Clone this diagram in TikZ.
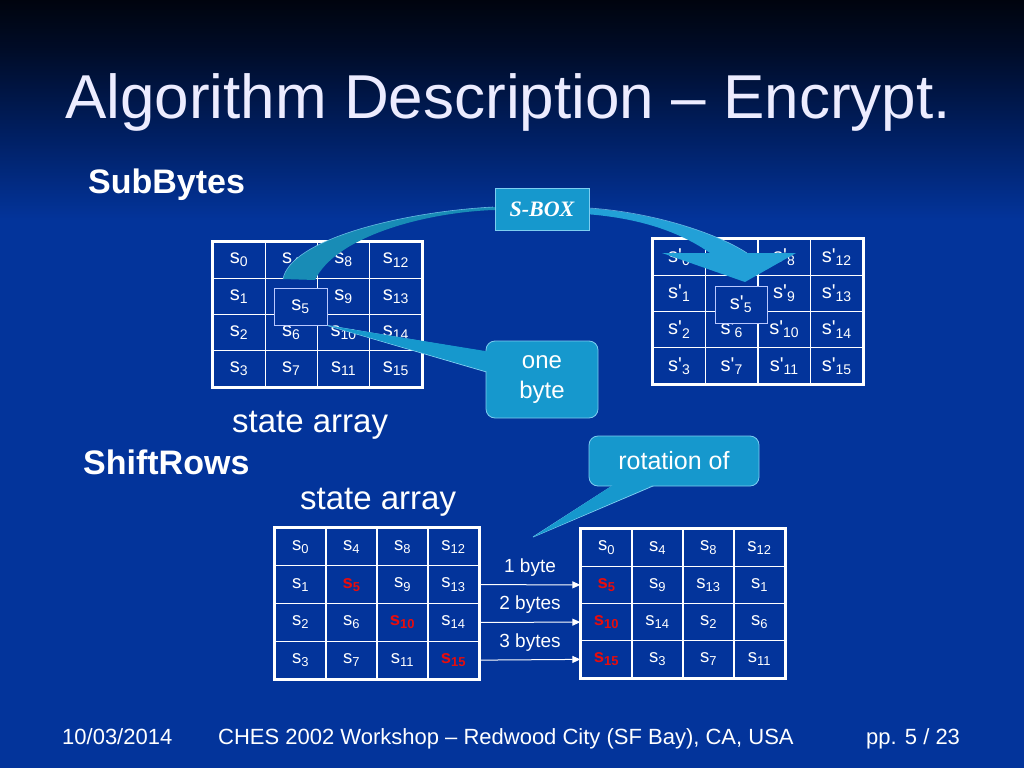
\documentclass[tikz,border=0pt]{standalone}
\usepackage{fontspec}
\setmainfont{Liberation Sans}
\newfontfamily\serifbi{Liberation Serif}
\usetikzlibrary{arrows.meta}
\definecolor{bgblue}{RGB}{3,52,155}
\definecolor{bgtop}{RGB}{0,4,14}
\definecolor{bgtwo}{RGB}{0,12,40}
\definecolor{bgthree}{RGB}{0,30,95}
\definecolor{callfill}{RGB}{22,152,205}
\definecolor{callline}{RGB}{125,205,240}
\definecolor{ribbonL}{RGB}{24,140,182}
\definecolor{ribbonR}{RGB}{34,160,215}
\definecolor{titlecol}{RGB}{236,236,255}
\definecolor{redtxt}{RGB}{232,12,12}
\definecolor{boxline}{RGB}{185,200,255}
\newcommand\sbx[1]{s\textsubscript{#1}}
\newcommand\spr[1]{s\textquotesingle\textsubscript{#1}}
\newcommand\srd[1]{\textcolor{redtxt}{\bfseries s\textsubscript{#1}}}
\tikzset{
  gridcell/.style={draw=white, line width=1.3pt, fill=bgblue, text=white, inner sep=0pt},
  fivebox/.style={draw=boxline, line width=1pt, fill=bgblue, text=white, inner sep=0pt},
  callout/.style={draw=callline, line width=0.8pt, fill=callfill, text=white, rounded corners=9pt, inner sep=0pt},
  wedge/.style={fill=callfill, draw=callline, line width=0.8pt},
  plain/.style={text=white, inner sep=0pt},
  shiftarrow/.style={draw=white, line width=1pt, -{Triangle[width=7pt,length=8pt]}},
  lbl/.style={text=white, inner sep=0pt, font=\fontsize{19}{22}\selectfont}
}
% name, x0, y0, cell width, cell height, font size, entries (column-major)
\newcommand\stategrid[7]{%
  \foreach \ent [count=\i from 0] in {#7} {
    \pgfmathtruncatemacro\cc{\i/4}
    \pgfmathtruncatemacro\rr{\i-4*\cc}
    \node[gridcell, minimum width=#4pt, minimum height=#5pt, font=\fontsize{#6}{#6}\selectfont]
      (#1-\i) at ({#2+(\cc+0.5)*#4},{#3+(\rr+0.5)*#5}) {\ent};
  }
  \draw[white, line width=3pt] (#1-0.north west) rectangle (#1-15.south east);
}
\begin{document}
\begin{tikzpicture}[x=1pt,y=-1pt]
\useasboundingbox (0,0) rectangle (1024,768);
% background
\fill[bgblue] (0,0) rectangle (1024,768);
\shade[top color=bgtop, bottom color=bgtwo] (0,0) rectangle (1024,50.5);
\shade[top color=bgtwo, bottom color=bgthree] (0,50) rectangle (1024,130.5);
\shade[top color=bgthree, bottom color=bgblue] (0,130) rectangle (1024,220);

% title and headings
\node[anchor=base west, text=titlecol, inner sep=0pt, font=\fontsize{62}{70}\selectfont] (title) at (65,118) {Algorithm Description -- Encrypt.};
\node[plain, anchor=base west, font=\fontsize{34}{40}\selectfont\bfseries] (subbytes) at (88,193) {SubBytes};
\node[plain, anchor=base west, font=\fontsize{34}{40}\selectfont\bfseries] (shiftrows) at (83,474) {ShiftRows};
\node[plain, anchor=base west, font=\fontsize{33}{40}\selectfont] (state1) at (232,432) {state array};
\node[plain, anchor=base west, font=\fontsize{33}{40}\selectfont] (state2) at (300,509) {state array};

% grids
\stategrid{tl}{213}{242}{52.25}{36.25}{20}{{\sbx{0}},{\sbx{1}},{\sbx{2}},{\sbx{3}},{\sbx{4}},{},{\sbx{6}},{\sbx{7}},{\sbx{8}},{\sbx{9}},{\sbx{10}},{\sbx{11}},{\sbx{12}},{\sbx{13}},{\sbx{14}},{\sbx{15}}}
\stategrid{tr}{653}{239}{52.5}{36.25}{20}{{\spr{0}},{\spr{1}},{\spr{2}},{\spr{3}},{\spr{4}},{},{\spr{6}},{\spr{7}},{\spr{8}},{\spr{9}},{\spr{10}},{\spr{11}},{\spr{12}},{\spr{13}},{\spr{14}},{\spr{15}}}
\stategrid{bl}{275}{528}{51}{37.75}{18.5}{{\sbx{0}},{\sbx{1}},{\sbx{2}},{\sbx{3}},{\sbx{4}},{\srd{5}},{\sbx{6}},{\sbx{7}},{\sbx{8}},{\sbx{9}},{\srd{10}},{\sbx{11}},{\sbx{12}},{\sbx{13}},{\sbx{14}},{\srd{15}}}
\stategrid{br}{581}{529}{51}{37.25}{18.5}{{\sbx{0}},{\srd{5}},{\srd{10}},{\srd{15}},{\sbx{4}},{\sbx{9}},{\sbx{14}},{\sbx{3}},{\sbx{8}},{\sbx{13}},{\sbx{2}},{\sbx{7}},{\sbx{12}},{\sbx{1}},{\sbx{6}},{\sbx{11}}}

% the highlighted byte boxes
\node[fivebox, minimum width=53pt, minimum height=37pt, font=\fontsize{20}{24}\selectfont] (tlfive) at (300.5,306.5) {\sbx{5}};
\node[fivebox, minimum width=52pt, minimum height=37pt, font=\fontsize{20}{24}\selectfont] (trfive) at (741,304.5) {\spr{5}};

% ribbons from / to the S-box
\fill[ribbonL] (500,207) -- (493,207) .. controls (400,212) and (290,240) .. (283,279) -- (315,280) .. controls (335,238) and (420,213) .. (493,210) -- (500,210) -- cycle;
\draw[callline, line width=0.6pt, opacity=0.8] (493,207) .. controls (400,212) and (290,240) .. (283,279);
\fill[ribbonR] (585,208) .. controls (650,212) and (715,232) .. (747,253) -- (796,253) -- (745,282) -- (662,253) -- (710,253) .. controls (680,232) and (640,218) .. (585,214) -- cycle;
\draw[callline, line width=0.6pt, opacity=0.8] (589,208) .. controls (650,212) and (715,232) .. (747,253);

% S-BOX
\node[draw=callline, line width=0.8pt, fill=callfill, text=white, minimum width=94pt, minimum height=42pt, inner sep=0pt, font=\serifbi\fontsize{22}{24}\selectfont\bfseries\itshape] (sbox) at (542,209) {S-BOX};

% "one byte" callout
\coordinate (obtip) at (tlfive.south east);
\coordinate (obA) at (490,353);
\coordinate (obB) at (490,373);
\draw[wedge] (obA) -- (obtip) -- (obB);
\node[callout, minimum width=112pt, minimum height=77pt, align=center, font=\fontsize{24}{30}\selectfont] (onebyte) at (542,379.5) {one\\byte};
\fill[callfill] (obtip) -- (495,352.6) -- (495,373.6) -- cycle;

% "rotation of" callout
\coordinate (rottip) at (533,537);
\coordinate (rotA) at (617,483);
\coordinate (rotB) at (660,483);
\draw[wedge] (rotA) -- (rottip) -- (rotB);
\node[callout, minimum width=170pt, minimum height=50pt, font=\fontsize{25}{30}\selectfont] (rotation) at (674,461) {rotation of};
\fill[callfill] (rottip) -- (617.6,482) -- (659.6,482) -- cycle;

% shift arrows
\draw[shiftarrow] (bl-13.east) -- node[lbl, above=8pt] (l1) {1 byte} (br-1.west);
\draw[shiftarrow] (bl-14.east) -- node[lbl, above=8pt] (l2) {2 bytes} (br-2.west);
\draw[shiftarrow] (bl-15.east) -- node[lbl, above=8pt] (l3) {3 bytes} (br-3.west);

% footer
\node[plain, anchor=base west, font=\fontsize{22}{26}\selectfont] (date) at (62,744) {10/03/2014};
\node[plain, anchor=base west, font=\fontsize{22}{26}\selectfont] (venue) at (218,744) {CHES 2002 Workshop -- Redwood City (SF Bay), CA, USA};
\node[plain, anchor=base west, font=\fontsize{22}{26}\selectfont] (page) at (866,744) {pp. 5 / 23};
\end{tikzpicture}
\end{document}
